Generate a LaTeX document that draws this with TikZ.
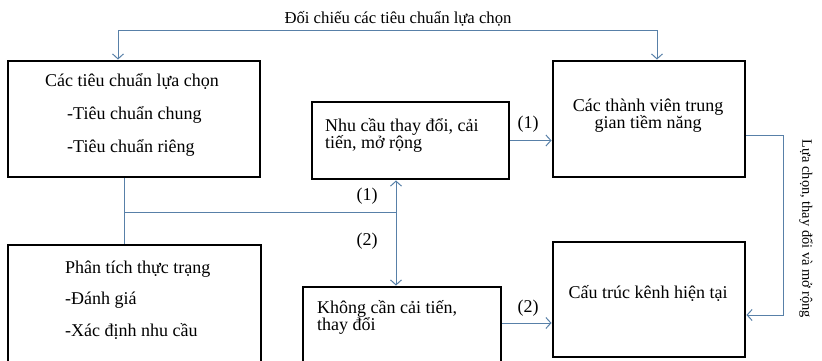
\documentclass[tikz,border=0pt]{standalone}
\usepackage{fontspec}
\setmainfont{Liberation Serif}
\usetikzlibrary{arrows.meta}
\definecolor{linkblue}{RGB}{88,128,168}
\tikzset{
  frame/.style={draw=black, line width=2.9pt, rectangle, inner sep=0pt},
  link/.style={draw=linkblue, line width=1pt},
  tip/.style={-{Straight Barb[length=5pt,width=11pt]}},
  body/.style={font=\fontsize{18}{18}\selectfont, inner sep=0pt},
  small/.style={font=\fontsize{16.7}{16.7}\selectfont, inner sep=0pt},
  side/.style={font=\fontsize{14.4}{14.4}\selectfont, inner sep=0pt},
}
\begin{document}
\begin{tikzpicture}[x=1pt, y=-1pt]
\useasboundingbox (0,0) rectangle (822,360);
\begin{scope}
\clip (0,0) rectangle (822,360);

% boxes
\node[frame, minimum width=252pt, minimum height=116pt] (A) at (134,119) {};
\node[frame, minimum width=197pt, minimum height=77pt]  (B) at (410.5,140.5) {};
\node[frame, minimum width=192pt, minimum height=116pt] (C) at (649,119) {};
\node[frame, minimum width=192pt, minimum height=115pt] (D) at (649,299.5) {};
\node[frame, minimum width=253pt, minimum height=160pt] (E) at (134.5,325) {};
\node[frame, minimum width=198pt, minimum height=120pt] (F) at (402,347) {};

% texts inside the boxes
\node[body, anchor=base west] (a1) at (45,86)  {Các tiêu chuẩn lựa chọn};
\node[body, anchor=base west] (a2) at (67,119) {-Tiêu chuẩn chung};
\node[body, anchor=base west] (a3) at (67,152) {-Tiêu chuẩn riêng};

\node[body, anchor=base west] (b1) at (325,131) {Nhu cầu thay đổi, cải};
\node[body, anchor=base west] (b2) at (325,148.5) {tiến, mở rộng};

\node[body, anchor=base] (c1) at (648,111) {Các thành viên trung};
\node[body, anchor=base] (c2) at (648,128) {gian tiềm năng};

\node[body, anchor=base] (d1) at (648,298) {Cấu trúc kênh hiện tại};

\node[body, anchor=base west] (e1) at (65,273) {Phân tích thực trạng};
\node[body, anchor=base west] (e2) at (65,304) {-Đánh giá};
\node[body, anchor=base west] (e3) at (65,336) {-Xác định nhu cầu};

\node[body, anchor=base west] (f1) at (317,313) {Không cần cải tiến,};
\node[body, anchor=base west] (f2) at (317,330) {thay đổi};

% connector bends
\coordinate (tl) at (118,30);
\coordinate (tr) at (657,30);
\coordinate (rt) at (783,135);
\coordinate (rb) at (783,315);
\coordinate (j)  at (124,212);
\coordinate (v)  at (396,212);
\coordinate (fy) at (0,323);

% comparison of the criteria
\draw[link, tip] (tl) -- (tl |- A.north);
\draw[link, tip] (tl) -- (tr) -- (tr |- C.north);
\node[small, anchor=base] (top) at (398,23) {Đối chiếu các tiêu chuẩn lựa chọn};

% criteria and analysis feed the decision
\draw[link] (j |- A.south) -- (j |- E.north);
\draw[link] (j) -- (v);
\draw[link, tip] (v) -- (v |- B.south);
\draw[link, tip] (v) -- (v |- F.north);
\node[body, anchor=base] (n1) at (367,200) {(1)};
\node[body, anchor=base] (n2) at (367,245) {(2)};

% outcomes
\draw[link, tip] (B.east) -- (B.east -| C.west);
\node[body, anchor=base] (n3) at (528,128) {(1)};
\draw[link, tip] (F.east |- fy) -- (fy -| D.west);
\node[body, anchor=base] (n4) at (528,312) {(2)};

% selection feeds the current structure
\draw[link, tip] (C.east |- rt) -- (rt) -- (rb) -- (D.east |- rb);
\node[side, rotate=-90] (sidetext) at (806,229) {Lựa chọn, thay đổi và mở rộng};
\end{scope}
\end{tikzpicture}
\end{document}
